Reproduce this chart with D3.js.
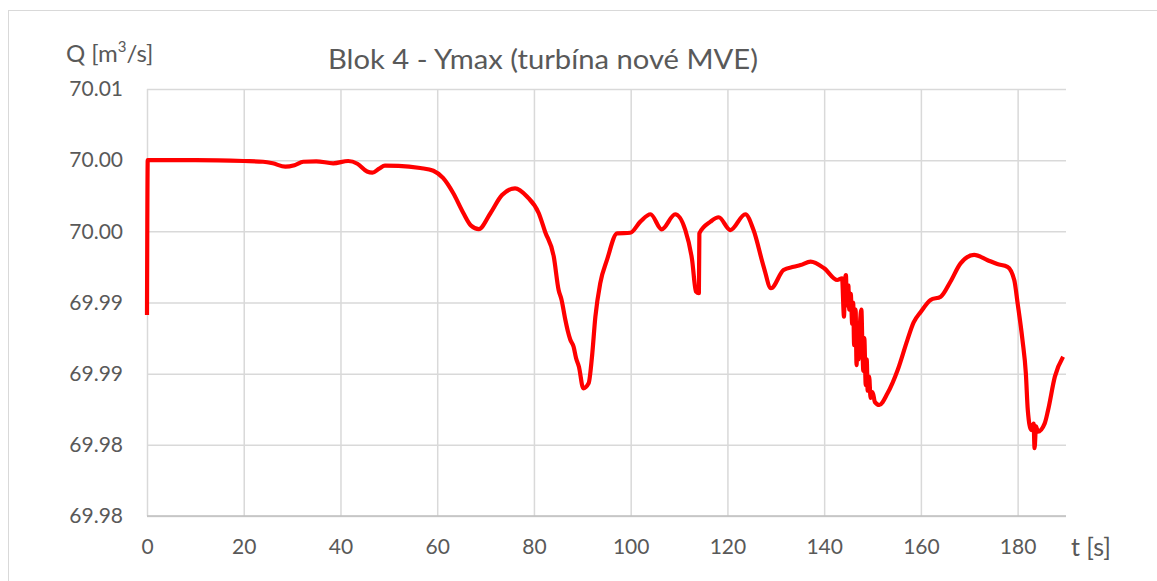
<!DOCTYPE html>
<html>
<head>
<meta charset="utf-8">
<script src="https://cdn.jsdelivr.net/npm/d3@7"></script>
<style>
  html, body { margin: 0; padding: 0; background: #fff; }
  svg text { font-family: Lato, "Open Sans", sans-serif; fill: #595959; }
</style>
</head>
<body>
<svg id="chart" width="1157" height="581"></svg>
<script>
// Flow through turbine over time
const times = [0, 0.15, 10, 20, 24, 26, 28.6, 30.5, 32.3, 35, 38.5, 41.6, 43.5, 45.5, 46.6, 48, 49.2, 52, 56.5, 59.2,
  61.2, 63.3, 65.4, 67, 68.6, 71.0, 73.4, 76.1, 78.6, 81.0, 82.3, 84.1, 85.1, 85.7, 86.5, 87.0, 87.5, 88.2, 88.7, 89.3,
  90.2, 91.3, 92.0, 92.7, 93.7, 95.1, 97.2, 99.9, 102.0, 104.1, 106.4, 109.2, 111.3, 112.7, 113.5, 114.1, 114.2, 116.5, 118.2, 120.6,
  123.7, 125.4, 127.5, 129.0, 131.6, 133.7, 135.1, 137.2, 140.0, 142.7, 143.7,
  144.1, 144.3, 144.5, 144.7, 145.0, 145.2, 145.5, 145.8, 146.0, 146.2, 146.5, 146.7, 146.9, 147.1, 147.4, 147.7, 147.9, 148.1, 148.3, 148.6,
  148.8, 149.0, 149.3, 149.6, 150.0, 150.5, 151.4, 153.1, 155.2, 157.2, 158.5, 160.0, 162.0, 164.1, 166.1, 168.2, 171.0, 173.7, 175.8,
  177.9, 179.3, 180.0, 181.0, 181.7, 182.1, 182.8, 183.3, 183.5, 183.8, 184.2, 185.6, 186.3, 187.7, 189.4];
const flow = [69.98912, 70.00000, 70.00000, 69.99994, 69.99989, 69.99978, 69.99954, 69.99965, 69.99989, 69.99992, 69.99978, 69.99994, 69.99975, 69.99920, 69.99912, 69.99940, 69.99961, 69.99960, 69.99945, 69.99926,
  69.99875, 69.99769, 69.99629, 69.99540, 69.99516, 69.99627, 69.99755, 69.99802, 69.99743, 69.99627, 69.99497, 69.99322, 69.99088, 69.99020, 69.98877, 69.98800, 69.98740, 69.98689, 69.98610, 69.98549,
  69.98397, 69.98432, 69.98619, 69.98900, 69.99135, 69.99299, 69.99486, 69.99490, 69.99568, 69.99620, 69.99514, 69.99620, 69.99509, 69.99299, 69.99076, 69.99065, 69.99486, 69.99568, 69.99599, 69.99509,
  69.99620, 69.99509, 69.99251, 69.99100, 69.99228, 69.99251, 69.99263, 69.99287, 69.99240, 69.99158, 69.99170,
  69.98900, 69.99150, 69.99193, 69.98980, 69.99120, 69.98950, 69.99060, 69.98850, 69.99000, 69.98700, 69.98950, 69.98560, 69.98800, 69.98600, 69.98850, 69.98950, 69.98700, 69.98520, 69.98750, 69.98420,
  69.98600, 69.98380, 69.98480, 69.98330, 69.98370, 69.98300, 69.98280, 69.98362, 69.98526, 69.98736, 69.98860, 69.98935, 69.99018, 69.99041, 69.99146, 69.99275, 69.99334, 69.99299, 69.99270,
  69.99251, 69.99158, 69.98994, 69.98736, 69.98502, 69.98245, 69.98104, 69.98150, 69.97976, 69.98130, 69.98093, 69.98151, 69.98245, 69.98479, 69.98619];

const xTicks = [0, 20, 40, 60, 80, 100, 120, 140, 160, 180];
const yTicks = [69.975, 69.980, 69.985, 69.990, 69.995, 70.000, 70.005];

const titleText = "Blok 4 - Ymax (turbína nové MVE)";
const xAxisLabel = "t [s]";

const svg = d3.select("#chart");
const plot = { left: 147, right: 1066, top: 89, bottom: 516 };

const x = d3.scaleLinear().domain([0, 190]).range([plot.left, plot.right]);
const y = d3.scaleLinear().domain([69.975, 70.005]).range([plot.bottom, plot.top]);

// chart frame
svg.append("rect")
  .attr("x", 8.5).attr("y", 10.5)
  .attr("width", 1200).attr("height", 600)
  .attr("fill", "none").attr("stroke", "#d9d9d9").attr("stroke-width", 1);

// horizontal gridlines
const yAxis = d3.axisLeft(y).tickValues(yTicks).tickSize(-(plot.right - plot.left)).tickPadding(24)
  .tickFormat(d => d3.format(".2f")(Math.round(d * 100 + 1e-6) / 100));
const gy = svg.append("g").attr("transform", `translate(${plot.left},0)`).call(yAxis);
gy.select(".domain").remove();
gy.selectAll(".tick line").attr("stroke", "#d9d9d9").attr("stroke-width", 1.5);
gy.selectAll(".tick text").attr("font-size", 21).style("fill", "#595959");

// vertical gridlines
const xAxis = d3.axisBottom(x).tickValues(xTicks).tickSize(-(plot.bottom - plot.top)).tickPadding(23);
const gx = svg.append("g").attr("transform", `translate(0,${plot.bottom})`).call(xAxis);
gx.select(".domain").remove();
gx.selectAll(".tick line").attr("stroke", "#d9d9d9").attr("stroke-width", 1.5);
gx.selectAll(".tick text").attr("font-size", 21).style("fill", "#595959");

// bottom axis line
svg.append("line")
  .attr("x1", plot.left).attr("x2", plot.right)
  .attr("y1", plot.bottom).attr("y2", plot.bottom)
  .attr("stroke", "#bfbfbf").attr("stroke-width", 1.5);

// data line
const line = d3.line().curve(d3.curveMonotoneX).x((d, i) => x(times[i])).y(d => y(d));
svg.append("path")
  .datum(flow)
  .attr("d", line)
  .attr("fill", "none")
  .attr("stroke", "#ff0000")
  .attr("stroke-width", 4.2)
  .attr("stroke-linejoin", "round");

// title
svg.append("text")
  .attr("x", 328).attr("y", 69)
  .attr("font-size", 27)
  .attr("textLength", 430)
  .attr("lengthAdjust", "spacingAndGlyphs")
  .text(titleText);

// y-axis unit label
const ql = svg.append("text").attr("x", 66).attr("y", 62).attr("font-size", 24);
ql.append("tspan").text("Q [m");
ql.append("tspan").attr("font-size", 15).attr("dy", -10).text("3");
ql.append("tspan").attr("dy", 10).text("/s]");

// x-axis label
svg.append("text")
  .attr("x", 1071).attr("y", 556)
  .attr("font-size", 25)
  .text(xAxisLabel);
</script>
</body>
</html>
